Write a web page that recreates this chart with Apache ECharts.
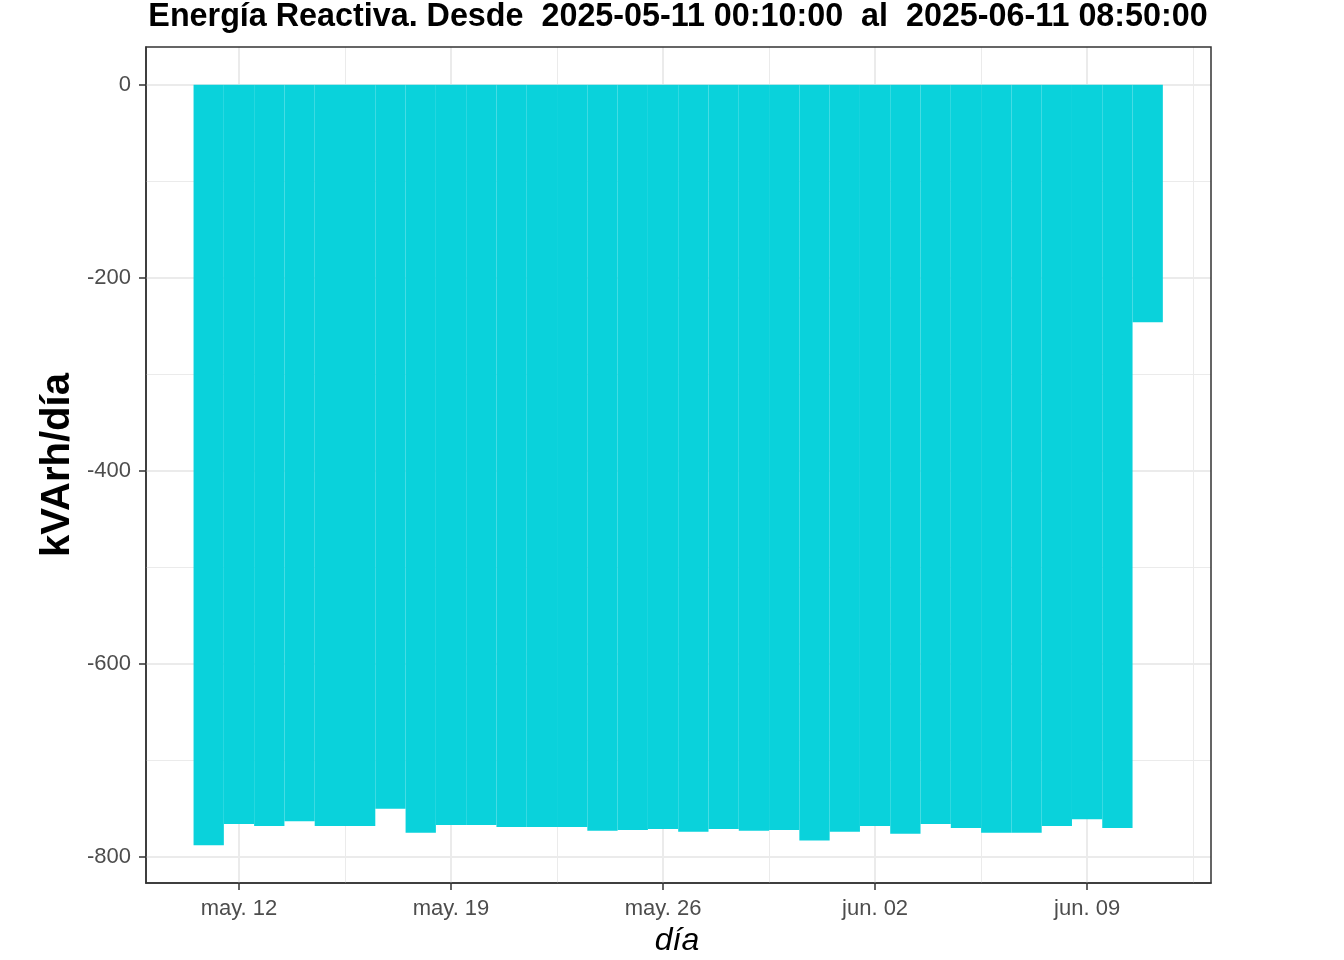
<!DOCTYPE html>
<html>
<head>
<meta charset="utf-8">
<script src="https://cdn.jsdelivr.net/npm/echarts@6/dist/echarts.min.js"></script>
<style>html,body{margin:0;padding:0;background:#fff}#c{width:1344px;height:960px}</style>
</head>
<body>
<div id="c"></div>
<script>
// ---- data ----
const dates = ["2025-05-11","2025-05-12","2025-05-13","2025-05-14","2025-05-15","2025-05-16","2025-05-17","2025-05-18",
  "2025-05-19","2025-05-20","2025-05-21","2025-05-22","2025-05-23","2025-05-24","2025-05-25","2025-05-26",
  "2025-05-27","2025-05-28","2025-05-29","2025-05-30","2025-05-31","2025-06-01","2025-06-02","2025-06-03",
  "2025-06-04","2025-06-05","2025-06-06","2025-06-07","2025-06-08","2025-06-09","2025-06-10","2025-06-11"];
const values = [-788,-766,-768,-763,-768,-768,-750,-775,
  -767,-767,-769,-769,-769,-773,-772,-771,
  -774,-771,-773,-772,-783,-774,-768,-776,
  -766,-770,-775,-775,-768,-761,-770,-246];
const xTickDates = ["2025-05-12","2025-05-19","2025-05-26","2025-06-02","2025-06-09"];
const xTickLabels = ["may. 12","may. 19","may. 26","jun. 02","jun. 09"];
const xMinorDates = ["2025-05-15T12:00:00Z","2025-05-22T12:00:00Z","2025-05-29T12:00:00Z","2025-06-05T12:00:00Z","2025-06-12T12:00:00Z"];
const yTicks = [0,-200,-400,-600,-800];
const yMinor = [-100,-300,-500,-700];
const titleText = "Energía Reactiva. Desde  2025-05-11 00:10:00  al  2025-06-11 08:50:00";
const yTitle = "kVArh/día";
const xTitle = "día";

// ---- helpers ----
const DAY = 86400000;
const t0 = Date.parse(dates[0] + "T00:00:00Z");
const dx = s => (Date.parse(s.length > 10 ? s : s + "T00:00:00Z") - t0) / DAY;
const barData = dates.map((d, i) => [dx(d), values[i]]);
const xTickVals = xTickDates.map(dx);
const xMinorVals = xMinorDates.map(dx);

const G = {left:146, right:133, top:47, bottom:77};
const W = 1344, H = 960;
const xMin = -2.07, xMax = 33.09, yMin = -827, yMax = 39;
const dayPx = (W - G.left - G.right) / (xMax - xMin);

const gridLine = (w) => ({color:'#EBEBEB', width:w, type:'solid'});
const markData = []
  .concat(yMinor.map(v => ({yAxis:v, lineStyle:gridLine(1)})))
  .concat(xMinorVals.map(v => ({xAxis:v, lineStyle:gridLine(1)})))
  .concat(yTicks.map(v => ({yAxis:v, lineStyle:gridLine(2)})))
  .concat(xTickVals.map(v => ({xAxis:v, lineStyle:gridLine(2)})));

const FONT = "'Liberation Sans', Arial, sans-serif";
const chart = echarts.init(document.getElementById('c'), null, {renderer:'canvas'});
chart.setOption({
  animation:false,
  backgroundColor:'#ffffff',
  grid:{left:G.left, right:G.right, top:G.top, bottom:G.bottom, containLabel:false},
  xAxis:{
    type:'value', min:xMin, max:xMax,
    axisLine:{show:true, onZero:false, lineStyle:{color:'#333333', width:1.5}},
    splitLine:{show:false},
    axisTick:{show:true, customValues:xTickVals, length:7, lineStyle:{color:'#333333', width:1.5}},
    axisLabel:{show:true, customValues:xTickVals, margin:15, color:'#4D4D4D', fontSize:22, fontFamily:FONT,
      formatter:(v)=>{const i = xTickVals.findIndex(t=>Math.abs(t-v)<1e-6); return i>=0 ? xTickLabels[i] : '';}}
  },
  yAxis:{
    type:'value', min:yMin, max:yMax,
    axisLine:{show:true, onZero:false, lineStyle:{color:'#333333', width:1.5}},
    splitLine:{show:false},
    axisTick:{show:true, customValues:yTicks, length:7, lineStyle:{color:'#333333', width:1.5}},
    axisLabel:{show:true, customValues:yTicks, margin:15, color:'#4D4D4D', fontSize:22, fontFamily:FONT,
      formatter:(v)=>String(Math.round(v))}
  },
  series:[
    {type:'scatter', data:[[0,0]], symbolSize:0, z:1, silent:true,
     markLine:{silent:true, z:1, symbol:'none', label:{show:false}, animation:false, data:markData}},
    {type:'bar', data:barData, z:10, barWidth:dayPx, barGap:'-100%',
     itemStyle:{color:'#0AD2DB'}}
  ],
  graphic:[
    {type:'rect', z:100, shape:{x:G.left, y:G.top, width:W-G.left-G.right, height:H-G.top-G.bottom},
     style:{fill:'none', stroke:'#333333', lineWidth:1.5}},
    {type:'text', z:100, x:678, y:17, style:{text:titleText, font:"bold 32.3px " + FONT, fill:'#000', align:'center', verticalAlign:'middle'}},
    {type:'text', z:100, x:58, y:465, rotation:Math.PI/2, style:{text:yTitle, font:"bold 40px " + FONT, fill:'#000', align:'center', verticalAlign:'middle'}},
    {type:'text', z:100, x:677, y:941, style:{text:xTitle, font:"italic 32px " + FONT, fill:'#000', align:'center', verticalAlign:'middle'}}
  ]
});
</script>
</body>
</html>
